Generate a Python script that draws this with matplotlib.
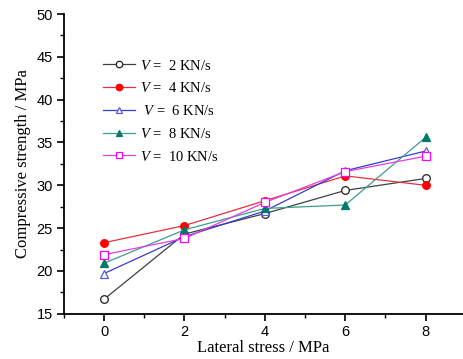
import matplotlib
matplotlib.use('Agg')
import matplotlib.pyplot as plt
from matplotlib.ticker import MultipleLocator

# lateral stress (MPa)
LATERAL_STRESS = [0, 2, 4, 6, 8]

# compressive strength (MPa) for each loading rate
V2 = [16.7, 24.3, 26.7, 29.4, 30.8]
V4 = [23.3, 25.3, 28.2, 31.1, 30.0]
V6 = [19.7, 24.0, 27.0, 31.7, 34.0]
V8 = [20.9, 24.8, 27.3, 27.7, 35.6]
V10 = [21.9, 23.8, 28.0, 31.6, 33.4]

LABELS = ['$V$ =  2 KN/s', '$V$ =  4 KN/s', ' $V$ =  6 KN/s',
          '$V$ =  8 KN/s', '$V$ =  10 KN/s']

plt.rcParams['mathtext.fontset'] = 'custom'
plt.rcParams['mathtext.it'] = 'Liberation Serif:italic'
plt.rcParams['mathtext.rm'] = 'Liberation Serif'

fig = plt.figure(figsize=(4.63, 3.59), dpi=100)
ax = fig.add_axes([0.138, 0.126, 0.862, 0.835])

styles = [
    # marker, line colour, marker edge, marker face
    ('o', '#404040', '#202020', 'white'),
    ('o', '#E8303A', '#FF0000', '#FF0000'),
    ('^', '#3A3ACC', '#5A5AE0', 'white'),
    ('^', '#3A9E90', '#00786A', '#00786A'),
    ('s', '#E040E0', '#FF00FF', 'white'),
]
series = [V2, V4, V6, V8, V10]

for values, label, (mk, lc, mec, mfc) in zip(series, LABELS, styles):
    ax.plot(LATERAL_STRESS, values, color=lc, linewidth=0.9, marker=mk,
            markersize=5.5, markeredgecolor=mec, markerfacecolor=mfc,
            markeredgewidth=0.9, label=label)

ax.set_xlim(-1, 8.93)
ax.set_ylim(15, 50)
ax.xaxis.set_major_locator(MultipleLocator(2))
ax.xaxis.set_minor_locator(MultipleLocator(1))
ax.yaxis.set_major_locator(MultipleLocator(5))
ax.yaxis.set_minor_locator(MultipleLocator(2.5))

for side in ['top', 'right']:
    ax.spines[side].set_visible(False)
for side in ['left', 'bottom']:
    ax.spines[side].set_linewidth(1.3)

ax.tick_params(which='major', direction='out', length=5, width=1.2,
               labelsize=10.5, pad=3)
ax.tick_params(which='minor', direction='out', length=3, width=1.0)
for lbl in ax.get_xticklabels() + ax.get_yticklabels():
    lbl.set_family('Liberation Sans')

ax.set_xlabel('Lateral stress / MPa', family='Liberation Serif',
              fontsize=12, labelpad=1)
ax.set_ylabel('Compressive strength / MPa', family='Liberation Serif',
              fontsize=12, labelpad=4)

leg = ax.legend(loc='upper left', bbox_to_anchor=(0.065, 0.895), frameon=False,
                handlelength=2.2, handletextpad=0.35, labelspacing=0.6,
                markerscale=0.85,
                prop={'family': 'Liberation Serif', 'size': 10.5})

fig.savefig('out.png', dpi=100)
